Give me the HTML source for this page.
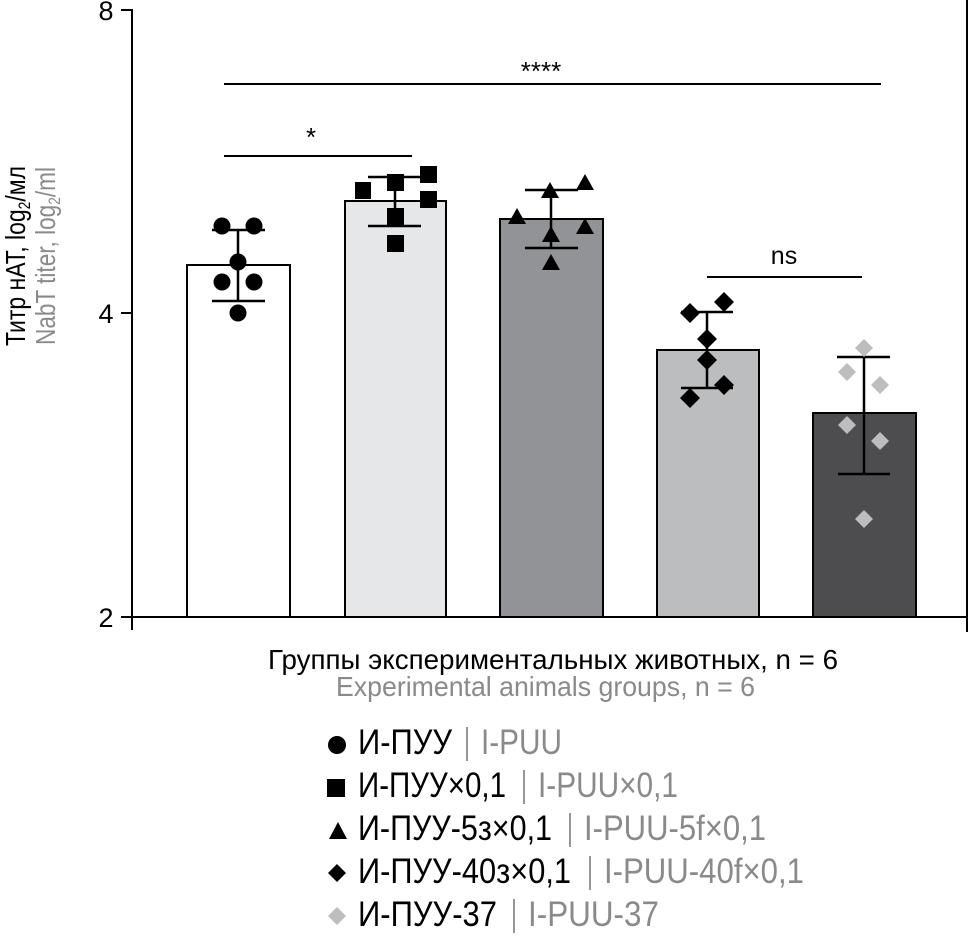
<!DOCTYPE html>
<html><head><meta charset="utf-8"><style>html,body{margin:0;padding:0;background:#fff}svg{display:block}</style></head>
<body>
<svg width="970" height="945" viewBox="0 0 970 945" xmlns="http://www.w3.org/2000/svg" font-family="Liberation Sans, sans-serif">
<rect width="970" height="945" fill="#fff"/>
<line x1="132" y1="9" x2="132" y2="630" stroke="#000" stroke-width="2"/>
<line x1="132" y1="617" x2="967" y2="617" stroke="#000" stroke-width="2"/>
<line x1="967" y1="0" x2="967" y2="632" stroke="#000" stroke-width="2"/>
<line x1="121" y1="10" x2="132" y2="10" stroke="#000" stroke-width="2"/>
<line x1="121" y1="313" x2="132" y2="313" stroke="#000" stroke-width="2"/>
<line x1="121" y1="617" x2="132" y2="617" stroke="#000" stroke-width="2"/>
<g font-size="27" text-anchor="middle">
<text x="106" y="20">8</text><text x="106" y="323">4</text><text x="106" y="627">2</text>
</g>
<g transform="translate(25,256) rotate(-90)"><text x="0" y="0" font-size="28" text-anchor="middle" textLength="180" lengthAdjust="spacingAndGlyphs">Титр нАТ, log<tspan font-size="17" dy="5">2</tspan><tspan dy="-5">/мл</tspan></text></g>
<g transform="translate(55,256) rotate(-90)"><text x="0" y="0" font-size="28" fill="#8a8a8a" text-anchor="middle" textLength="178" lengthAdjust="spacingAndGlyphs">NabT titer, log<tspan font-size="17" dy="5">2</tspan><tspan dy="-5">/ml</tspan></text></g>
<g stroke="#000" stroke-width="2">
<rect x="187" y="265" width="103" height="352" fill="#fff"/>
<rect x="345" y="201" width="101" height="416" fill="#e6e7e8"/>
<rect x="500" y="219" width="103" height="398" fill="#929396"/>
<rect x="657" y="350" width="102" height="267" fill="#bcbdbf"/>
<rect x="813" y="413" width="103" height="204" fill="#4d4d4f"/>
</g>
<g stroke="#000" stroke-width="2.5">
<line x1="238" y1="230" x2="238" y2="301"/><line x1="212" y1="230" x2="265" y2="230"/><line x1="212" y1="301" x2="265" y2="301"/>
<line x1="395" y1="177" x2="395" y2="226"/><line x1="368" y1="177" x2="421" y2="177"/><line x1="368" y1="226" x2="421" y2="226"/>
<line x1="551" y1="190" x2="551" y2="248"/><line x1="525" y1="190" x2="578" y2="190"/><line x1="525" y1="248" x2="578" y2="248"/>
<line x1="707" y1="312" x2="707" y2="388"/><line x1="681" y1="312" x2="733" y2="312"/><line x1="681" y1="388" x2="733" y2="388"/>
<line x1="864" y1="357" x2="864" y2="474"/><line x1="837" y1="357" x2="890" y2="357"/><line x1="838" y1="474" x2="890" y2="474"/>
</g>
<g fill="#000">
<circle cx="222" cy="226" r="8.5"/><circle cx="254" cy="226" r="8.5"/><circle cx="238" cy="262" r="8.5"/><circle cx="222" cy="282" r="8.5"/><circle cx="254" cy="282" r="8.5"/><circle cx="238" cy="313" r="8.5"/>
<rect x="355" y="182" width="16" height="17"/><rect x="387" y="174" width="17" height="17"/><rect x="420" y="166" width="17" height="17"/><rect x="420" y="191" width="17" height="17"/><rect x="387" y="208" width="17" height="17"/><rect x="387" y="235" width="17" height="17"/>
<path d="M517,208 l9,16 h-18z M550,182 l9,16 h-18z M585,174 l9,16 h-18z M585,218 l9,16 h-18z M551,226 l9,16 h-18z M551,254 l9,16 h-18z"/>
<path d="M690,303 l10,10 l-10,10 l-10,-10z M724,292 l10,10 l-10,10 l-10,-10z M707,329 l10,10 l-10,10 l-10,-10z M707,350 l10,10 l-10,10 l-10,-10z M724,375 l10,10 l-10,10 l-10,-10z M690,388 l10,10 l-10,10 l-10,-10z"/>
</g>
<g fill="#bcbdbf">
<path d="M864,339 l9,9 l-9,9 l-9,-9z M847,363 l9,9 l-9,9 l-9,-9z M880,376 l9,9 l-9,9 l-9,-9z M847,416 l9,9 l-9,9 l-9,-9z M880,432 l9,9 l-9,9 l-9,-9z M864,510 l9,9 l-9,9 l-9,-9z"/>
</g>
<g stroke="#000" stroke-width="2">
<line x1="224" y1="84" x2="881" y2="84"/>
<line x1="224" y1="156" x2="412" y2="156"/>
<line x1="707" y1="277" x2="862" y2="277"/>
</g>
<g font-size="26" text-anchor="middle">
<text x="541" y="80">****</text>
<text x="311" y="146">*</text>
<text x="784" y="264" font-size="25">ns</text>
</g>
<text x="268" y="669" font-size="28" textLength="570" lengthAdjust="spacingAndGlyphs">Группы экспериментальных животных, n = 6</text>
<text x="336" y="696" font-size="28" fill="#8a8a8a" textLength="419" lengthAdjust="spacingAndGlyphs">Experimental animals groups, n = 6</text>
<circle cx="337" cy="745" r="9"/>
<rect x="327" y="779" width="18" height="18"/>
<path d="M338,822 l9,17 h-18z"/>
<path d="M337,864 l9,9 l-9,9 l-9,-9z"/>
<path d="M337,907 l9,9 l-9,9 l-9,-9z" fill="#bcbdbf"/>
<g font-size="35">
<text x="358" y="754" textLength="94" lengthAdjust="spacingAndGlyphs">И-ПУУ</text>
<text x="358" y="797" textLength="148" lengthAdjust="spacingAndGlyphs">И-ПУУ×0,1</text>
<text x="358" y="840" textLength="194" lengthAdjust="spacingAndGlyphs">И-ПУУ-5з×0,1</text>
<text x="358" y="883" textLength="213" lengthAdjust="spacingAndGlyphs">И-ПУУ-40з×0,1</text>
<text x="358" y="926" textLength="139" lengthAdjust="spacingAndGlyphs">И-ПУУ-37</text>
</g>
<g stroke="#8a8a8a" stroke-width="1.8">
<line x1="467" y1="727" x2="467" y2="761"/>
<line x1="524" y1="770" x2="524" y2="804"/>
<line x1="570" y1="813" x2="570" y2="847"/>
<line x1="590" y1="856" x2="590" y2="890"/>
<line x1="514" y1="899" x2="514" y2="933"/>
</g>
<g font-size="35" fill="#8a8a8a">
<text x="481" y="754" textLength="81" lengthAdjust="spacingAndGlyphs">I-PUU</text>
<text x="538" y="797" textLength="140" lengthAdjust="spacingAndGlyphs">I-PUU×0,1</text>
<text x="584" y="840" textLength="182" lengthAdjust="spacingAndGlyphs">I-PUU-5f×0,1</text>
<text x="604" y="883" textLength="200" lengthAdjust="spacingAndGlyphs">I-PUU-40f×0,1</text>
<text x="528" y="926" textLength="131" lengthAdjust="spacingAndGlyphs">I-PUU-37</text>
</g>
</svg>
</body></html>
